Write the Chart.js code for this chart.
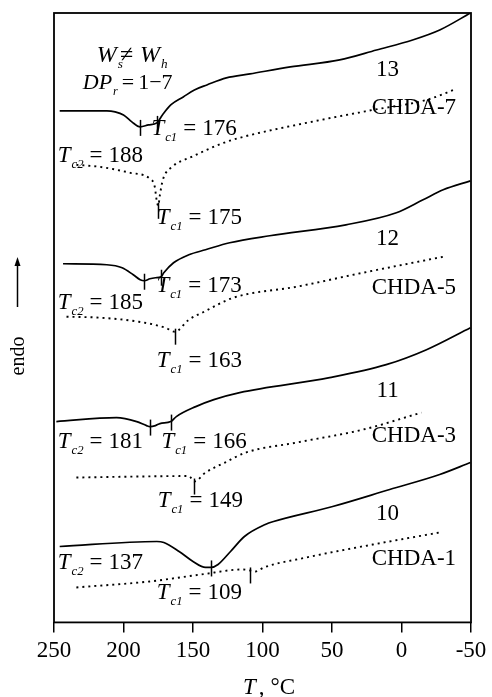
<!DOCTYPE html>
<html>
<head>
<meta charset="utf-8">
<script src="https://cdn.jsdelivr.net/npm/chart.js@4/dist/chart.umd.min.js"></script>
<style>
  html, body { margin: 0; padding: 0; background: #fff; }
  canvas { display: block; }
</style>
</head>
<body>
<canvas id="dsc" width="492" height="697"></canvas>
<script>
// DSC cooling traces: temperature (°C) against heat flow (arbitrary units, endo up).
// Each trace is a list of [temperature, heat flow] readings.

// copolymers 13, 12, 11, 10 (solid traces)
const trace13 = [[245.9,512],[212,512],[206,511],[200,508],[194,501],[188,496],[182,498],[176,500],[172,508],[166,518],[157,526],[149,533],[140,538],[126,545],[109,549],[80,556],[44.5,563],[18,573],[-8,583],[-27.5,593],[-49.6,610]];
const trace12 = [[243.5,359],[212,358],[201,355],[193,348],[188,343],[185,342],[181,344],[177,345],[173,346],[171,350],[164,360],[153,368],[141,373],[123.6,380],[94.8,387],[40,398],[3.7,410],[-15.5,423],[-30,433],[-49.6,442]];
const trace11 = [[248.3,201],[205,205],[190.5,201],[183.4,197],[181,196],[177,197],[173.8,199],[166,201],[162,206],[148,216],[135,223],[116.4,230],[51.7,245],[11,258],[-18,273],[-49.6,295]];
const trace10 = [[245.9,76],[176,81],[171,80],[160,71],[150,61],[141,55],[137,55],[132,58],[123,71],[113,86],[98,98],[92,101],[49.5,116],[8.5,133],[-27.5,148],[-49.6,160]];

// CHDA homopolymers (dotted traces)
const traceCHDA7 = [[233.9,458],[217,456],[195,450],[181,444],[177.5,436],[176.2,423],[175,417],[173.8,428],[171.7,443],[165,456],[151,466],[128,480],[114,486],[68.5,500],[20.5,513],[-18,523],[-39.5,534]];
const traceCHDA5 = [[241,306],[217,305],[189,301],[170,295],[163,291],[153,303],[142,311],[121,325],[75.6,336],[27.7,350],[-29.9,366]];
const traceCHDA3 = [[233.9,145],[190,146],[153,146.5],[149,141],[141,150],[127,160],[112,170],[75.6,180],[27.7,193],[-14.3,210]];
const traceCHDA1 = [[233.9,35],[181,41],[144,48],[114,53],[109,52],[105,51],[99,55],[68.4,65],[20.5,78],[-27.5,90]];

// crystallization temperatures marked on the traces
const tc13 = { c2: 188, c1: 176 };
const tc12 = { c2: 185, c1: 173 };
const tc11 = { c2: 181, c1: 166 };
const tc10 = { c2: 137 };
const tcCHDA7 = { c1: 175 };
const tcCHDA5 = { c1: 163 };
const tcCHDA3 = { c1: 149 };
const tcCHDA1 = { c1: 109 };

const copolymerNames = ['13', '12', '11', '10'];
const sampleNames = ['CHDA-7', 'CHDA-5', 'CHDA-3', 'CHDA-1'];
const xTicks = [250, 200, 150, 100, 50, 0, -50];

const SERIF = '"Liberation Serif", "Times New Roman", serif';

function series(label, pts, dotted) {
  return {
    label,
    data: pts.map(([x, y]) => ({ x, y })),
    borderColor: '#000',
    borderWidth: dotted ? 1.9 : 1.7,
    borderDash: dotted ? [2, 4] : [],
    pointRadius: 0,
    fill: false,
    cubicInterpolationMode: 'monotone',
    dotted
  };
}

const datasets = [
  series('13', trace13, false),
  series('CHDA-7', traceCHDA7, true),
  series('12', trace12, false),
  series('CHDA-5', traceCHDA5, true),
  series('11', trace11, false),
  series('CHDA-3', traceCHDA3, true),
  series('10', trace10, false),
  series('CHDA-1', traceCHDA1, true)
];

// which trace carries which marked temperature
const marks = [
  { ds: 0, tc: tc13 }, { ds: 1, tc: tcCHDA7 },
  { ds: 2, tc: tc12 }, { ds: 3, tc: tcCHDA5 },
  { ds: 4, tc: tc11 }, { ds: 5, tc: tcCHDA3 },
  { ds: 6, tc: tc10 }, { ds: 7, tc: tcCHDA1 }
];

// label anchors (temperature, heat flow) for each annotation
const tcLabelAt = [
  { tc: tc13, key: 'c2', at: [247.3, 468] }, { tc: tc13, key: 'c1', at: [179.9, 495] },
  { tc: tcCHDA7, key: 'c1', at: [176.1, 406] },
  { tc: tc12, key: 'c2', at: [247.3, 321] }, { tc: tc12, key: 'c1', at: [176.3, 338] },
  { tc: tcCHDA5, key: 'c1', at: [176.1, 263] },
  { tc: tc11, key: 'c2', at: [247.3, 182] }, { tc: tc11, key: 'c1', at: [172.7, 182] },
  { tc: tcCHDA3, key: 'c1', at: [175.4, 123] },
  { tc: tc10, key: 'c2', at: [247.3, 61] },
  { tc: tcCHDA1, key: 'c1', at: [176.1, 31] }
];
const nameRows = [553, 384, 232, 109];
const sampleRows = [515, 335, 187, 64];

function rich(ctx, x, yc, parts, size) {
  const base = yc + size * 0.33;
  ctx.textBaseline = 'alphabetic';
  ctx.textAlign = 'left';
  for (const p of parts) {
    if (p.gap) x += p.gap;
    const s = p.sub ? size * 0.55 : size;
    ctx.font = (p.it ? 'italic ' : '') + s.toFixed(1) + 'px ' + SERIF;
    ctx.fillText(p.t, x, base + (p.sub ? size * 0.25 : 0));
    x += ctx.measureText(p.t).width;
  }
}

const decorations = {
  id: 'decorations',
  afterDatasetsDraw(chart) {
    const { ctx, chartArea: a, scales: { x, y } } = chart;
    ctx.save();
    ctx.fillStyle = '#000';
    ctx.strokeStyle = '#000';

    // frame
    ctx.lineWidth = 1.8;
    ctx.strokeRect(a.left, a.top, a.right - a.left, a.bottom - a.top);

    // vertical marks at the crystallization temperatures
    ctx.lineWidth = 1.5;
    for (const m of marks) {
      const meta = chart.getDatasetMeta(m.ds);
      const data = chart.data.datasets[m.ds].data;
      const dotted = chart.data.datasets[m.ds].dotted;
      for (const key of Object.keys(m.tc)) {
        const i = data.findIndex(p => p.x === m.tc[key]);
        if (i < 0) continue;
        const el = meta.data[i];
        const up = dotted ? 3 : 7, down = dotted ? 13 : 9;
        ctx.beginPath();
        ctx.moveTo(Math.round(el.x) + 0.5, el.y - up);
        ctx.lineTo(Math.round(el.x) + 0.5, el.y + down);
        ctx.stroke();
      }
    }

    const size = 23;
    // T_c labels
    for (const l of tcLabelAt) {
      const px = x.getPixelForValue(l.at[0]);
      const py = y.getPixelForValue(l.at[1]);
      rich(ctx, px, py, [
        { t: 'T', it: true },
        { t: l.key, it: true, sub: true, gap: 1 },
        { t: '=', gap: 6 },
        { t: String(l.tc[l.key]), gap: 6 }
      ], size);
    }

    // copolymer numbers and sample names
    ctx.font = size + 'px ' + SERIF;
    ctx.textBaseline = 'middle';
    copolymerNames.forEach((n, i) => {
      ctx.textAlign = 'center';
      ctx.fillText(n, x.getPixelForValue(10), y.getPixelForValue(nameRows[i]));
    });
    sampleNames.forEach((n, i) => {
      ctx.textAlign = 'left';
      ctx.fillText(n, x.getPixelForValue(21.4), y.getPixelForValue(sampleRows[i]));
    });

    // composition notes
    rich(ctx, x.getPixelForValue(219.2), y.getPixelForValue(569), [
      { t: 'W', it: true },
      { t: 's', it: true, sub: true, gap: 1 },
      { t: '\u2260', gap: -3 },
      { t: 'W', it: true, gap: 7 },
      { t: 'h', it: true, sub: true, gap: 1 }
    ], 24);
    rich(ctx, x.getPixelForValue(229.3), y.getPixelForValue(541), [
      { t: 'DP', it: true },
      { t: 'r', it: true, sub: true, gap: 1 },
      { t: '=', gap: 4 },
      { t: '1\u22127', gap: 4 }
    ], 22);

    // axis title
    rich(ctx, 243, 686, [
      { t: 'T', it: true },
      { t: ',', gap: 3 },
      { t: '\u00B0C', gap: 6 }
    ], 23);

    // endo arrow on the left
    ctx.lineWidth = 1.5;
    ctx.beginPath();
    ctx.moveTo(17.5, 307);
    ctx.lineTo(17.5, 264);
    ctx.stroke();
    ctx.beginPath();
    ctx.moveTo(17.5, 257);
    ctx.lineTo(14.5, 266);
    ctx.lineTo(20.5, 266);
    ctx.closePath();
    ctx.fill();
    ctx.save();
    ctx.translate(19, 356);
    ctx.rotate(-Math.PI / 2);
    ctx.font = '20px ' + SERIF;
    ctx.textAlign = 'center';
    ctx.textBaseline = 'middle';
    ctx.fillText('endo', 0, 0);
    ctx.restore();

    ctx.restore();
  }
};

new Chart(document.getElementById('dsc'), {
  type: 'line',
  data: { datasets },
  options: {
    responsive: false,
    animation: false,
    devicePixelRatio: 1,
    layout: { padding: { left: 54, right: 21, top: 13, bottom: 27 } },
    plugins: { legend: { display: false }, tooltip: { enabled: false } },
    scales: {
      x: {
        type: 'linear',
        reverse: true,
        min: -50,
        max: 250,
        afterBuildTicks(scale) { scale.ticks = xTicks.map(v => ({ value: v })); },
        ticks: {
          color: '#000',
          font: { family: SERIF, size: 23 },
          padding: 5,
          maxRotation: 0,
          callback: v => String(v)
        },
        grid: {
          display: true,
          drawOnChartArea: false,
          drawTicks: true,
          tickLength: 10,
          color: '#000',
          lineWidth: 1.5
        },
        border: { display: false }
      },
      y: {
        type: 'linear',
        display: false,
        min: 0,
        max: 610
      }
    }
  },
  plugins: [decorations]
});
</script>
</body>
</html>
